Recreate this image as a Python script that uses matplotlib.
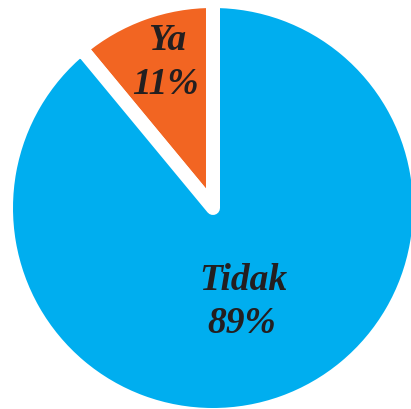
import matplotlib.pyplot as plt

# share of answers
labels = ["Ya", "Tidak"]
shares = [11, 89]
colors = ["#F26522", "#00AEEF"]

DPI = 100
W, H = 411, 410
CX, CY, R = 213, 201, 207  # pie centre and radius in pixel units
GAP_PX = 14

fig = plt.figure(figsize=(W / DPI, H / DPI), dpi=DPI)
ax = fig.add_axes([0, 0, 1, 1])

wedges, _ = ax.pie(
    shares,
    colors=colors,
    startangle=90,
    counterclock=True,
    explode=[0.03, 0],
    center=(CX, CY),
    radius=R,
    wedgeprops=dict(edgecolor="white", linewidth=GAP_PX * 72 / DPI, joinstyle="round"),
)

ax.set_xlim(0, W)
ax.set_ylim(0, H)
ax.set_aspect("equal")
ax.axis("off")

txt = dict(family="Liberation Serif", weight="bold", style="italic",
           color="#231F20", ha="center", va="center", fontsize=27)
ax.text(167, H - 40, labels[0], **txt)
ax.text(165, H - 84, f"{shares[0]}%", **txt)
ax.text(243, H - 280, labels[1], **txt)
ax.text(242, H - 324, f"{shares[1]}%", **txt)

fig.savefig("out.png", dpi=DPI)
